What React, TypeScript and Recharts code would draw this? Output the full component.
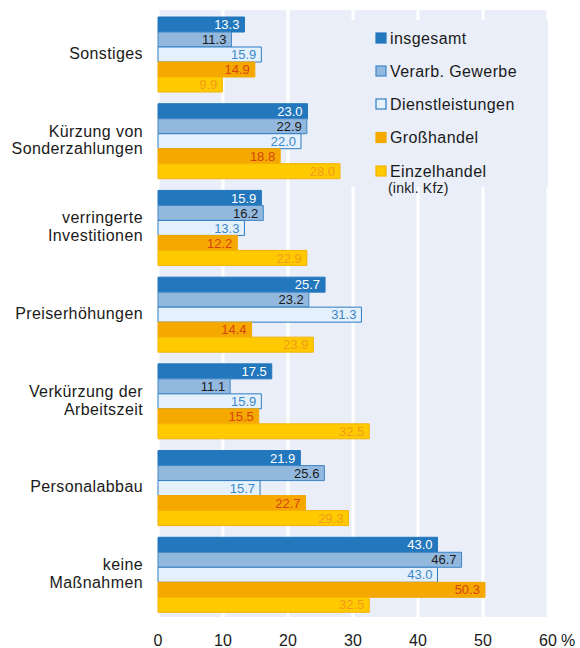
import React from "react";
import { BarChart, Bar, XAxis, YAxis, CartesianGrid, LabelList, Legend } from "recharts";

const categories = [
  "Sonstiges",
  "Kürzung von\nSonderzahlungen",
  "verringerte\nInvestitionen",
  "Preiserhöhungen",
  "Verkürzung der\nArbeitszeit",
  "Personalabbau",
  "keine\nMaßnahmen",
];
const insgesamt = [13.3, 23.0, 15.9, 25.7, 17.5, 21.9, 43.0];
const verarbGewerbe = [11.3, 22.9, 16.2, 23.2, 11.1, 25.6, 46.7];
const dienstleistungen = [15.9, 22.0, 13.3, 31.3, 15.9, 15.7, 43.0];
const grosshandel = [14.9, 18.8, 12.2, 14.4, 15.5, 22.7, 50.3];
const einzelhandel = [9.9, 28.0, 22.9, 23.9, 32.5, 29.3, 32.5];
const xTicks = [0, 10, 20, 30, 40, 50, 60];

const data = categories.map((name, i) => ({
  name,
  insgesamt: insgesamt[i],
  verarb: verarbGewerbe[i],
  dienst: dienstleistungen[i],
  gross: grosshandel[i],
  einzel: einzelhandel[i],
}));

const FONT = '"Liberation Sans", Arial, sans-serif';
const BG = "#e9eef9";
const LS = 0.4;

const series = [
  { key: "insgesamt", label: "insgesamt", fill: "#2277bd", stroke: "#2277bd", text: "#ffffff" },
  { key: "verarb", label: "Verarb. Gewerbe", fill: "#93b8de", stroke: "#3f86c6", text: "#1a1a1a" },
  { key: "dienst", label: "Dienstleistungen", fill: "#e4f0fb", stroke: "#2f7dc1", text: "#3d88c8" },
  { key: "gross", label: "Großhandel", fill: "#f5a800", stroke: "#f5a800", text: "#d5450f" },
  { key: "einzel", label: "Einzelhandel", fill: "#ffcb00", stroke: "#f6b100", text: "#f39a1e" },
];

const YTick = (props: any) => {
  const { x, y, payload } = props;
  const lines = String(payload.value).split("\n");
  const tx = x - 15;
  if (lines.length === 1) {
    return (
      <text x={tx} y={y + 5.5} textAnchor="end" fontSize={16} fill="#1a1a1a" fontFamily={FONT} letterSpacing={LS}>
        {lines[0]}
      </text>
    );
  }
  return (
    <g>
      <text x={tx} y={y - 3.3} textAnchor="end" fontSize={16} fill="#1a1a1a" fontFamily={FONT} letterSpacing={LS}>
        {lines[0]}
      </text>
      <text x={tx} y={y + 14.3} textAnchor="end" fontSize={16} fill="#1a1a1a" fontFamily={FONT} letterSpacing={LS}>
        {lines[1]}
      </text>
    </g>
  );
};

const XTick = (props: any) => {
  const { x, y, payload } = props;
  const by = y + 29;
  if (payload.value === 60) {
    return (
      <g>
        <text x={x} y={by} textAnchor="middle" fontSize={16} fill="#1a1a1a" fontFamily={FONT}>60</text>
        <text x={x + 13} y={by} textAnchor="start" fontSize={16} fill="#1a1a1a" fontFamily={FONT}>%</text>
      </g>
    );
  }
  return (
    <text x={x} y={by} textAnchor="middle" fontSize={16} fill="#1a1a1a" fontFamily={FONT}>
      {payload.value}
    </text>
  );
};

const LegendContent = () => {
  const rows = [18, 51, 84, 117.5, 151];
  return (
    <svg width={210} height={185} style={{ display: "block", overflow: "visible" }}>
      <rect x={0} y={0} width={203} height={167} fill={BG} />
      {series.map((s, i) => (
        <g key={s.key}>
          <rect x={31} y={rows[i] - 5} width={10} height={10} fill={s.fill} stroke={s.stroke} strokeWidth={1.2} />
          <text x={45} y={rows[i] + 5.5} fontSize={16} fill="#1a1a1a" fontFamily={FONT} letterSpacing={LS}>
            {s.label}
          </text>
        </g>
      ))}
      <text x={43} y={173} fontSize={14} fill="#1a1a1a" fontFamily={FONT} letterSpacing={0.2}>(inkl. Kfz)</text>
    </svg>
  );
};

export default function App() {
  return (
    <div style={{ position: "absolute", left: 0, top: 0, width: 580, height: 648, background: "#ffffff" }}>
      <BarChart
        width={580}
        height={648}
        data={data}
        layout="vertical"
        margin={{ top: 10, right: 32, bottom: 0, left: 0 }}
        barGap={0}
        barCategoryGap={7}
      >
        <CartesianGrid horizontal={false} vertical={true} stroke="#ffffff" strokeWidth={3} fill={BG} />
        <XAxis
          type="number"
          domain={[0, 60]}
          ticks={xTicks}
          axisLine={false}
          tickLine={false}
          tickSize={0}
          tickMargin={0}
          height={31}
          tick={<XTick />}
          interval={0}
        />
        <YAxis
          type="category"
          dataKey="name"
          axisLine={false}
          tickLine={false}
          tickSize={0}
          tickMargin={0}
          width={158}
          tick={<YTick />}
          interval={0}
        />
        <Legend
          layout="horizontal"
          verticalAlign="middle"
          align="center"
          wrapperStyle={{ left: 345, top: 20, width: 210, height: 185 }}
          content={<LegendContent />}
        />
        {series.map((s) => (
          <Bar
            key={s.key}
            dataKey={s.key}
            name={s.label}
            fill={s.fill}
            stroke={s.stroke}
            strokeWidth={1}
            isAnimationActive={false}
          >
            <LabelList
              dataKey={s.key}
              position="insideRight"
              fill={s.text}
              fontSize={13}
              fontFamily={FONT}
              formatter={(v: any) => Number(v).toFixed(1)}
            />
          </Bar>
        ))}
      </BarChart>
    </div>
  );
}
